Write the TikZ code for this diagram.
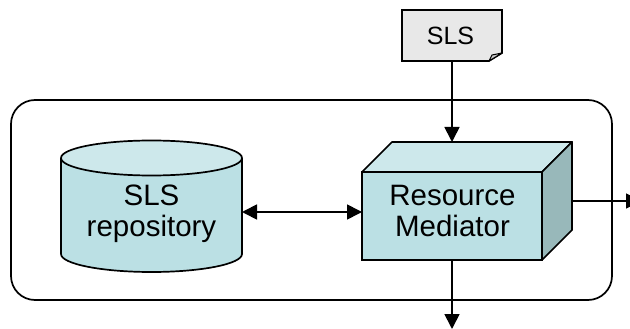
\documentclass[tikz,border=0pt]{standalone}
\usepackage{fontspec}
\setmainfont{Liberation Sans}
\usetikzlibrary{arrows.meta,calc}
\definecolor{facefront}{HTML}{BBE0E4}
\definecolor{facetop}{HTML}{CDE8EB}
\definecolor{faceside}{HTML}{98B8BA}
\definecolor{docfill}{HTML}{E8E8E8}
\definecolor{docfold}{HTML}{C8C8C8}
\begin{document}
\begin{tikzpicture}[x=1pt,y=-1pt,line width=1.7pt,
  bigtext/.style={font=\fontsize{29.5}{32}\selectfont,anchor=base,inner sep=0pt},
  doctext/.style={font=\fontsize{25}{30}\selectfont,anchor=base,inner sep=0pt},
  shapebox/.style={inner sep=0pt,outer sep=0pt},
  tip/.style={-{Triangle[length=15pt,width=15pt]}},
  twotip/.style={{Triangle[length=15pt,width=15pt]}-{Triangle[length=15pt,width=15pt]}}]
\useasboundingbox (0,0) rectangle (630,329);
\clip (0,0) rectangle (630,329);

% outer frame
\node[shapebox,draw,rounded corners=24pt,minimum width=601pt,minimum height=200pt] (frame) at (311.5,200) {};

% repository cylinder
\node[shapebox,minimum width=181pt,minimum height=108pt] (repo) at (151.5,212) {};
\fill[facefront] (61,158) rectangle (242,254);
\fill[facefront] (151.5,254) ellipse (90.5pt and 18pt);
\draw (61,158) -- (61,254) arc (180:360:90.5pt and 18pt) -- (242,158);
\filldraw[fill=facetop] (151.5,158) ellipse (90.5pt and 17.5pt);
\node[bigtext] (repoA) at (151.5,205) {SLS};
\node[bigtext] (repoB) at (151.5,236) {repository};

% mediator block
\node[shapebox,draw,fill=facefront,minimum width=180pt,minimum height=88pt] (med) at (452,216) {};
\filldraw[fill=facetop,line join=round] (med.north west) -- ++(30,-30) -- ($(med.north east)+(30,-30)$) -- (med.north east) -- cycle;
\filldraw[fill=faceside,line join=round] (med.north east) -- ++(30,-30) -- ($(med.south east)+(30,-30)$) -- (med.south east) -- cycle;
\node[bigtext] (medA) at (452.5,205) {Resource};
\node[bigtext] (medB) at (452.5,236) {Mediator};

% incoming SLS document
\node[shapebox,minimum width=100pt,minimum height=51pt] (doc) at (452,35.5) {};
\filldraw[fill=docfill,line join=miter] (doc.north west) -- (doc.north east) -- ($(doc.south east)+(0,-8)$) -- ($(doc.south east)+(-13,0)$) -- (doc.south west) -- cycle;
\filldraw[fill=docfold,line width=1pt,line join=round] ($(doc.south east)+(-13,0)$) -- ($(doc.south east)+(-10,-6)$) -- ($(doc.south east)+(0,-8)$) -- cycle;
\node[doctext] (docA) at (450.5,45) {SLS};

% connectors
\coordinate (medtop) at ($(med.north)+(0,-30)$);
\coordinate (sideout) at ($(med.east)+(30,-15)$);
\coordinate (outR) at (641,201);
\coordinate (outB) at (452,329);
\draw[tip] (doc.south) -- (medtop);
\draw[twotip] (repo.east) -- (repo.east -| med.west);
\draw[tip] (sideout) -- (outR);
\draw[tip] (med.south) -- (outB);
\end{tikzpicture}
\end{document}
